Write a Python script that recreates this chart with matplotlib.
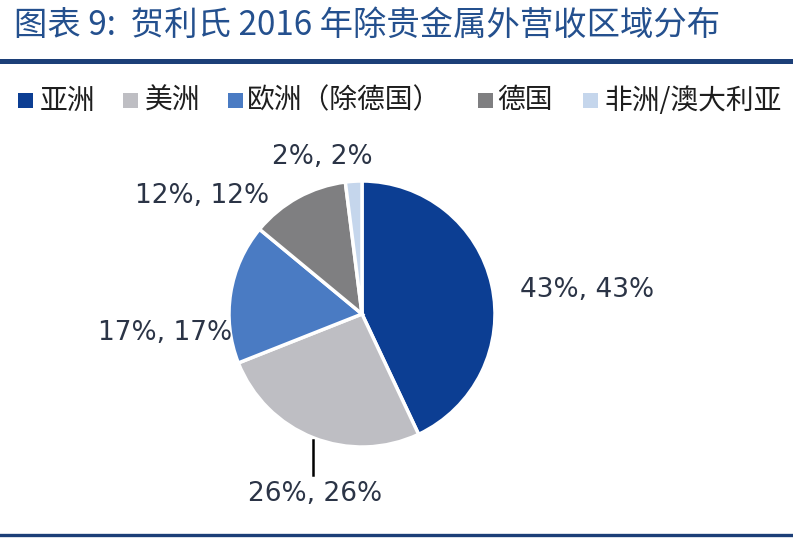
import matplotlib
matplotlib.use('Agg')
import matplotlib.pyplot as plt
from matplotlib.patches import Rectangle
import numpy as np

plt.rcParams['font.family'] = ['Noto Sans CJK SC', 'DejaVu Sans']

# Revenue share by region (excluding precious metals), 2016
regions = ['亚洲', '美洲', '欧洲（除德国）', '德国', '非洲/澳大利亚']
shares = [43, 26, 17, 12, 2]
colors = ['#0C3E93', '#BEBEC3', '#4A7BC3', '#7F7F81', '#C5D6EC']

W, H = 793, 546
fig = plt.figure(figsize=(W / 100, H / 100), dpi=100, facecolor='white')

# Title and rules
fig.text(14 / W, 1 - 25 / H, '图表 9:  贺利氏 2016 年除贵金属外营收区域分布',
         fontsize=24, color='#24508E', va='center', ha='left')
fig.add_artist(plt.Line2D([0, 1], [1 - 60.5 / H, 1 - 60.5 / H], color='#1C3F78', lw=3.6))
fig.add_artist(plt.Line2D([0, 1], [1 - 535 / H, 1 - 535 / H], color='#1C3F78', lw=2.4))

# Legend row, laid out by hand
sq_x = [18, 123, 228, 478, 583]
txt_x = [40, 145, 247, 497, 604]
leg_y = 100.5
for x0, xt, name, c in zip(sq_x, txt_x, regions, colors):
    fig.add_artist(Rectangle((x0 / W, 1 - (leg_y + 7.5) / H), 15 / W, 15 / H,
                             transform=fig.transFigure, facecolor=c, edgecolor='none'))
    fig.text(xt / W, 1 - leg_y / H, name, fontsize=20, color='#1E1E1E',
             va='center', ha='left')

# Pie
cx, cy, r = 362, 314, 133
ax = fig.add_axes([(cx - r) / W, (H - cy - r) / H, 2 * r / W, 2 * r / H])
wedges, _ = ax.pie(shares, colors=colors, startangle=90, counterclock=False,
                   radius=1, wedgeprops=dict(edgecolor='white', linewidth=2.5))
ax.set_xlim(-1, 1)
ax.set_ylim(-1, 1)
ax.set_aspect('equal')
ax.axis('off')

# Data labels
label_pos = [(1.69, 0.18), (-0.35, -1.35), (-1.48, -0.14), (-1.20, 0.89), (-0.30, 1.18)]
for v, (lx, ly) in zip(shares, label_pos):
    ax.text(lx, ly, f'{v}%, {v}%', fontsize=19, color='#2B3446',
            ha='center', va='center', family='DejaVu Sans', clip_on=False)

# Leader line for the 26% slice
w = wedges[1]
mid = np.deg2rad((w.theta1 + w.theta2) / 2)
x_rim, y_rim = np.cos(mid), np.sin(mid)
ax.plot([x_rim, x_rim], [y_rim - 0.02, -1.21], color='black', lw=1.8, clip_on=False)

plt.savefig('out.png', dpi=100, facecolor='white')
